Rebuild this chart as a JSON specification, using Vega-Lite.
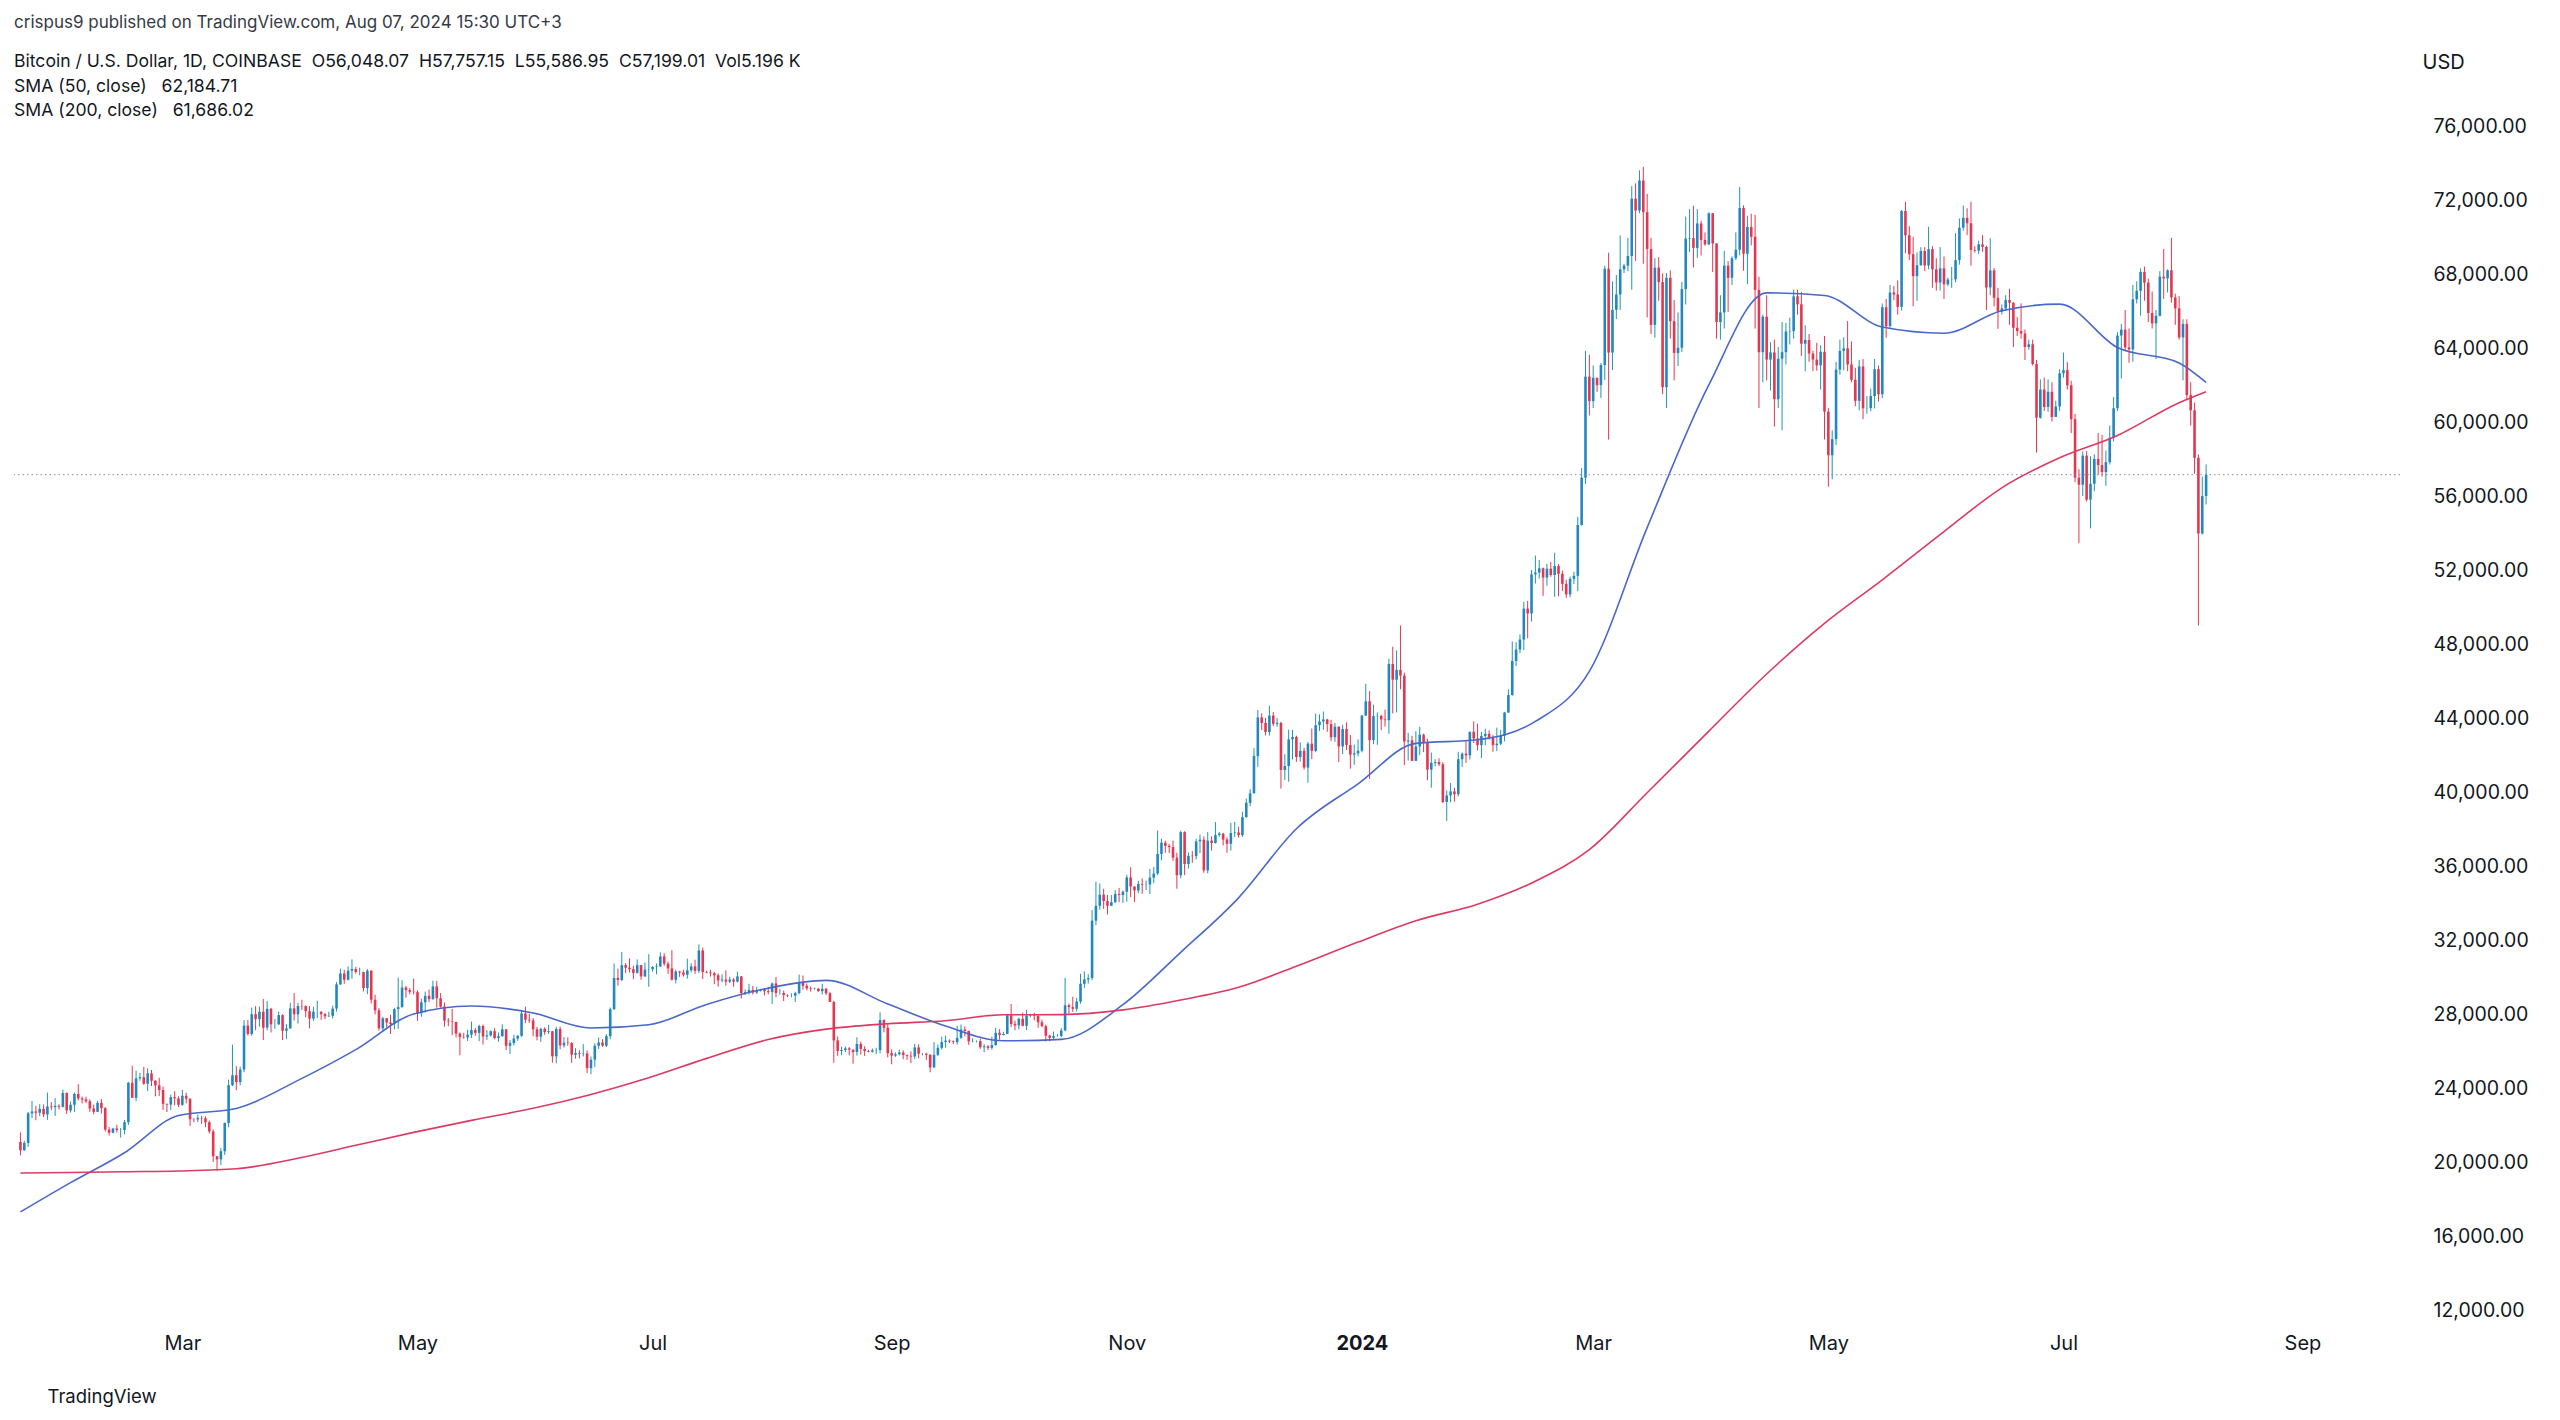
{
"$schema": "https://vega.github.io/schema/vega-lite/v6.json",
"width": 2386,
"height": 1278,
"autosize": "none",
"padding": {"left": 14, "top": 40, "right": 160, "bottom": 102},
"background": "#ffffff",
"config": {"view": {"stroke": null}, "font": "Inter"},
"title": {
 "text": "crispus9 published on TradingView.com, Aug 07, 2024 15:30 UTC+3",
 "subtitle": ["\u00a0\u00a0\u00a0Bitcoin / U.S. Dollar, 1D, COINBASE\u00a0\u00a0O56,048.07\u00a0\u00a0H57,757.15\u00a0\u00a0L55,586.95\u00a0\u00a0C57,199.01\u00a0\u00a0Vol5.196\u00a0K", "\u00a0\u00a0\u00a0SMA (50, close)\u00a0\u00a0\u00a062,184.71", "\u00a0\u00a0\u00a0SMA (200, close)\u00a0\u00a0\u00a061,686.02"],
 "anchor": "start", "frame": "group", "orient": "top", "offset": -81,
 "fontSize": 17, "fontWeight": "normal", "color": "#363a45",
 "subtitleFontSize": 17.6, "subtitleColor": "#131722", "subtitlePadding": 21, "subtitleLineHeight": 24.5
},
"datasets": {
"ohlc": [
{"d":"2023-01-18","o":21130,"h":21650,"l":20410,"c":20680},
{"d":"2023-01-19","o":20680,"h":21190,"l":20660,"c":21080},
{"d":"2023-01-20","o":21080,"h":22750,"l":20860,"c":22680},
{"d":"2023-01-21","o":22680,"h":23340,"l":22420,"c":22780},
{"d":"2023-01-22","o":22780,"h":23080,"l":22310,"c":22710},
{"d":"2023-01-23","o":22710,"h":23170,"l":22530,"c":22920},
{"d":"2023-01-24","o":22920,"h":23160,"l":22480,"c":22620},
{"d":"2023-01-25","o":22620,"h":23800,"l":22330,"c":23050},
{"d":"2023-01-26","o":23050,"h":23280,"l":22850,"c":23010},
{"d":"2023-01-27","o":23010,"h":23500,"l":22540,"c":23080},
{"d":"2023-01-28","o":23080,"h":23170,"l":22880,"c":23030},
{"d":"2023-01-29","o":23030,"h":23960,"l":22990,"c":23780},
{"d":"2023-01-30","o":23780,"h":23810,"l":22640,"c":22840},
{"d":"2023-01-31","o":22840,"h":23320,"l":22720,"c":23140},
{"d":"2023-02-01","o":23140,"h":23800,"l":22760,"c":23730},
{"d":"2023-02-02","o":23730,"h":24250,"l":23380,"c":23490},
{"d":"2023-02-03","o":23490,"h":23590,"l":23210,"c":23430},
{"d":"2023-02-04","o":23430,"h":23580,"l":23240,"c":23330},
{"d":"2023-02-05","o":23330,"h":23440,"l":22760,"c":22940},
{"d":"2023-02-06","o":22940,"h":23150,"l":22630,"c":22760},
{"d":"2023-02-07","o":22760,"h":23350,"l":22750,"c":23250},
{"d":"2023-02-08","o":23250,"h":23450,"l":22670,"c":22960},
{"d":"2023-02-09","o":22960,"h":23010,"l":21700,"c":21800},
{"d":"2023-02-10","o":21800,"h":21940,"l":21480,"c":21630},
{"d":"2023-02-11","o":21630,"h":21900,"l":21600,"c":21860},
{"d":"2023-02-12","o":21860,"h":22060,"l":21640,"c":21780},
{"d":"2023-02-13","o":21780,"h":21890,"l":21370,"c":21780},
{"d":"2023-02-14","o":21780,"h":22320,"l":21540,"c":22200},
{"d":"2023-02-15","o":22200,"h":24380,"l":22050,"c":24330},
{"d":"2023-02-16","o":24330,"h":25250,"l":23520,"c":23520},
{"d":"2023-02-17","o":23520,"h":24990,"l":23340,"c":24570},
{"d":"2023-02-18","o":24570,"h":24870,"l":24440,"c":24630},
{"d":"2023-02-19","o":24630,"h":25190,"l":24220,"c":24280},
{"d":"2023-02-20","o":24280,"h":25120,"l":23880,"c":24840},
{"d":"2023-02-21","o":24840,"h":25020,"l":24150,"c":24440},
{"d":"2023-02-22","o":24440,"h":24480,"l":23600,"c":24190},
{"d":"2023-02-23","o":24190,"h":24600,"l":23610,"c":23940},
{"d":"2023-02-24","o":23940,"h":24130,"l":22860,"c":23190},
{"d":"2023-02-25","o":23190,"h":23210,"l":22750,"c":23150},
{"d":"2023-02-26","o":23150,"h":23690,"l":22860,"c":23550},
{"d":"2023-02-27","o":23550,"h":23880,"l":23110,"c":23490},
{"d":"2023-02-28","o":23490,"h":23600,"l":23020,"c":23140},
{"d":"2023-03-01","o":23140,"h":23950,"l":23080,"c":23630},
{"d":"2023-03-02","o":23630,"h":23790,"l":23220,"c":23470},
{"d":"2023-03-03","o":23470,"h":23480,"l":22000,"c":22360},
{"d":"2023-03-04","o":22360,"h":22420,"l":22200,"c":22350},
{"d":"2023-03-05","o":22350,"h":22610,"l":22210,"c":22430},
{"d":"2023-03-06","o":22430,"h":22550,"l":22110,"c":22410},
{"d":"2023-03-07","o":22410,"h":22520,"l":21930,"c":22200},
{"d":"2023-03-08","o":22200,"h":22280,"l":21590,"c":21700},
{"d":"2023-03-09","o":21700,"h":21820,"l":20050,"c":20360},
{"d":"2023-03-10","o":20360,"h":20370,"l":19570,"c":20190},
{"d":"2023-03-11","o":20190,"h":20800,"l":19880,"c":20630},
{"d":"2023-03-12","o":20630,"h":22180,"l":20430,"c":22160},
{"d":"2023-03-13","o":22160,"h":24500,"l":21920,"c":24200},
{"d":"2023-03-14","o":24200,"h":26390,"l":24150,"c":24740},
{"d":"2023-03-15","o":24740,"h":25230,"l":23930,"c":24370},
{"d":"2023-03-16","o":24370,"h":25200,"l":24200,"c":25050},
{"d":"2023-03-17","o":25050,"h":27720,"l":24900,"c":27420},
{"d":"2023-03-18","o":27420,"h":27730,"l":26880,"c":26970},
{"d":"2023-03-19","o":26970,"h":28400,"l":26870,"c":28040},
{"d":"2023-03-20","o":28040,"h":28470,"l":27170,"c":27770},
{"d":"2023-03-21","o":27770,"h":28450,"l":27360,"c":28170},
{"d":"2023-03-22","o":28170,"h":28860,"l":26640,"c":27310},
{"d":"2023-03-23","o":27310,"h":28750,"l":27160,"c":28330},
{"d":"2023-03-24","o":28330,"h":28380,"l":27050,"c":27490},
{"d":"2023-03-25","o":27490,"h":27780,"l":27250,"c":27490},
{"d":"2023-03-26","o":27490,"h":28180,"l":27450,"c":27990},
{"d":"2023-03-27","o":27990,"h":28030,"l":26640,"c":27140},
{"d":"2023-03-28","o":27140,"h":27500,"l":26690,"c":27270},
{"d":"2023-03-29","o":27270,"h":28650,"l":27250,"c":28350},
{"d":"2023-03-30","o":28350,"h":29180,"l":27700,"c":28030},
{"d":"2023-03-31","o":28030,"h":28650,"l":27540,"c":28480},
{"d":"2023-04-01","o":28480,"h":28820,"l":28260,"c":28470},
{"d":"2023-04-02","o":28470,"h":28530,"l":27880,"c":28200},
{"d":"2023-04-03","o":28200,"h":28480,"l":27270,"c":27800},
{"d":"2023-04-04","o":27800,"h":28440,"l":27680,"c":28170},
{"d":"2023-04-05","o":28170,"h":28770,"l":27830,"c":28170},
{"d":"2023-04-06","o":28170,"h":28200,"l":27730,"c":28040},
{"d":"2023-04-07","o":28040,"h":28100,"l":27770,"c":27920},
{"d":"2023-04-08","o":27920,"h":28170,"l":27890,"c":27950},
{"d":"2023-04-09","o":27950,"h":28500,"l":27810,"c":28340},
{"d":"2023-04-10","o":28340,"h":29770,"l":28180,"c":29650},
{"d":"2023-04-11","o":29650,"h":30500,"l":29620,"c":30240},
{"d":"2023-04-12","o":30240,"h":30440,"l":29680,"c":29900},
{"d":"2023-04-13","o":29900,"h":30620,"l":29860,"c":30390},
{"d":"2023-04-14","o":30390,"h":31000,"l":29950,"c":30480},
{"d":"2023-04-15","o":30480,"h":30600,"l":30230,"c":30320},
{"d":"2023-04-16","o":30320,"h":30550,"l":30140,"c":30320},
{"d":"2023-04-17","o":30320,"h":30330,"l":29270,"c":29450},
{"d":"2023-04-18","o":29450,"h":30480,"l":29120,"c":30390},
{"d":"2023-04-19","o":30390,"h":30410,"l":28620,"c":28820},
{"d":"2023-04-20","o":28820,"h":29090,"l":28030,"c":28250},
{"d":"2023-04-21","o":28250,"h":28370,"l":27150,"c":27270},
{"d":"2023-04-22","o":27270,"h":27880,"l":27130,"c":27820},
{"d":"2023-04-23","o":27820,"h":27820,"l":27330,"c":27590},
{"d":"2023-04-24","o":27590,"h":28000,"l":26970,"c":27510},
{"d":"2023-04-25","o":27510,"h":28380,"l":27210,"c":28310},
{"d":"2023-04-26","o":28310,"h":30020,"l":27250,"c":28420},
{"d":"2023-04-27","o":28420,"h":29870,"l":28390,"c":29480},
{"d":"2023-04-28","o":29480,"h":29570,"l":28930,"c":29340},
{"d":"2023-04-29","o":29340,"h":29450,"l":29110,"c":29250},
{"d":"2023-04-30","o":29250,"h":29960,"l":29100,"c":29230},
{"d":"2023-05-01","o":29230,"h":29330,"l":27680,"c":28090},
{"d":"2023-05-02","o":28090,"h":28880,"l":27900,"c":28680},
{"d":"2023-05-03","o":28680,"h":29260,"l":28130,"c":29030},
{"d":"2023-05-04","o":29030,"h":29370,"l":28700,"c":28850},
{"d":"2023-05-05","o":28850,"h":29850,"l":28820,"c":29540},
{"d":"2023-05-06","o":29540,"h":29840,"l":28390,"c":28900},
{"d":"2023-05-07","o":28900,"h":29180,"l":28390,"c":28450},
{"d":"2023-05-08","o":28450,"h":28670,"l":27360,"c":27690},
{"d":"2023-05-09","o":27690,"h":27830,"l":27390,"c":27650},
{"d":"2023-05-10","o":27650,"h":28320,"l":26900,"c":27620},
{"d":"2023-05-11","o":27620,"h":27630,"l":26780,"c":26990},
{"d":"2023-05-12","o":26990,"h":27050,"l":25820,"c":26800},
{"d":"2023-05-13","o":26800,"h":27030,"l":26710,"c":26780},
{"d":"2023-05-14","o":26780,"h":27200,"l":26590,"c":26930},
{"d":"2023-05-15","o":26930,"h":27640,"l":26750,"c":27180},
{"d":"2023-05-16","o":27180,"h":27280,"l":26870,"c":27030},
{"d":"2023-05-17","o":27030,"h":27470,"l":26580,"c":27400},
{"d":"2023-05-18","o":27400,"h":27480,"l":26400,"c":26830},
{"d":"2023-05-19","o":26830,"h":27180,"l":26650,"c":26890},
{"d":"2023-05-20","o":26890,"h":27160,"l":26830,"c":27120},
{"d":"2023-05-21","o":27120,"h":27280,"l":26680,"c":26750},
{"d":"2023-05-22","o":26750,"h":27050,"l":26550,"c":26850},
{"d":"2023-05-23","o":26850,"h":27490,"l":26820,"c":27220},
{"d":"2023-05-24","o":27220,"h":27230,"l":26100,"c":26330},
{"d":"2023-05-25","o":26330,"h":26640,"l":25880,"c":26480},
{"d":"2023-05-26","o":26480,"h":26930,"l":26350,"c":26720},
{"d":"2023-05-27","o":26720,"h":26900,"l":26600,"c":26870},
{"d":"2023-05-28","o":26870,"h":28200,"l":26810,"c":28080},
{"d":"2023-05-29","o":28080,"h":28450,"l":27560,"c":27740},
{"d":"2023-05-30","o":27740,"h":28050,"l":27570,"c":27700},
{"d":"2023-05-31","o":27700,"h":27830,"l":26850,"c":27220},
{"d":"2023-06-01","o":27220,"h":27350,"l":26620,"c":26820},
{"d":"2023-06-02","o":26820,"h":27300,"l":26540,"c":27250},
{"d":"2023-06-03","o":27250,"h":27330,"l":26920,"c":27070},
{"d":"2023-06-04","o":27070,"h":27460,"l":26970,"c":27120},
{"d":"2023-06-05","o":27120,"h":27130,"l":25420,"c":25760},
{"d":"2023-06-06","o":25760,"h":27350,"l":25380,"c":27240},
{"d":"2023-06-07","o":27240,"h":27360,"l":26140,"c":26350},
{"d":"2023-06-08","o":26350,"h":26800,"l":26230,"c":26500},
{"d":"2023-06-09","o":26500,"h":26790,"l":26330,"c":26480},
{"d":"2023-06-10","o":26480,"h":26530,"l":25410,"c":25850},
{"d":"2023-06-11","o":25850,"h":26200,"l":25630,"c":25940},
{"d":"2023-06-12","o":25940,"h":26090,"l":25650,"c":25900},
{"d":"2023-06-13","o":25900,"h":26420,"l":25750,"c":25920},
{"d":"2023-06-14","o":25920,"h":26080,"l":24850,"c":25120},
{"d":"2023-06-15","o":25120,"h":25750,"l":24790,"c":25580},
{"d":"2023-06-16","o":25580,"h":26470,"l":25180,"c":26330},
{"d":"2023-06-17","o":26330,"h":26770,"l":26160,"c":26510},
{"d":"2023-06-18","o":26510,"h":26690,"l":26270,"c":26340},
{"d":"2023-06-19","o":26340,"h":26960,"l":26260,"c":26850},
{"d":"2023-06-20","o":26850,"h":28400,"l":26680,"c":28310},
{"d":"2023-06-21","o":28310,"h":30780,"l":28270,"c":30000},
{"d":"2023-06-22","o":30000,"h":30500,"l":29580,"c":29890},
{"d":"2023-06-23","o":29890,"h":31400,"l":29820,"c":30690},
{"d":"2023-06-24","o":30690,"h":30800,"l":30260,"c":30550},
{"d":"2023-06-25","o":30550,"h":31050,"l":30290,"c":30470},
{"d":"2023-06-26","o":30470,"h":30660,"l":29930,"c":30270},
{"d":"2023-06-27","o":30270,"h":31000,"l":30230,"c":30690},
{"d":"2023-06-28","o":30690,"h":30700,"l":29900,"c":30080},
{"d":"2023-06-29","o":30080,"h":30830,"l":30050,"c":30450},
{"d":"2023-06-30","o":30450,"h":31280,"l":29520,"c":30470},
{"d":"2023-07-01","o":30470,"h":30650,"l":30330,"c":30590},
{"d":"2023-07-02","o":30590,"h":30780,"l":30190,"c":30620},
{"d":"2023-07-03","o":30620,"h":31380,"l":30580,"c":31160},
{"d":"2023-07-04","o":31160,"h":31330,"l":30650,"c":30770},
{"d":"2023-07-05","o":30770,"h":30880,"l":30220,"c":30510},
{"d":"2023-07-06","o":30510,"h":31500,"l":29860,"c":29900},
{"d":"2023-07-07","o":29900,"h":30440,"l":29700,"c":30350},
{"d":"2023-07-08","o":30350,"h":30380,"l":30050,"c":30290},
{"d":"2023-07-09","o":30290,"h":30440,"l":30070,"c":30170},
{"d":"2023-07-10","o":30170,"h":31040,"l":29960,"c":30410},
{"d":"2023-07-11","o":30410,"h":30800,"l":30300,"c":30620},
{"d":"2023-07-12","o":30620,"h":30980,"l":30220,"c":30380},
{"d":"2023-07-13","o":30380,"h":31810,"l":30260,"c":31480},
{"d":"2023-07-14","o":31480,"h":31640,"l":29940,"c":30320},
{"d":"2023-07-15","o":30320,"h":30390,"l":30250,"c":30290},
{"d":"2023-07-16","o":30290,"h":30440,"l":30070,"c":30250},
{"d":"2023-07-17","o":30250,"h":30320,"l":29660,"c":30140},
{"d":"2023-07-18","o":30140,"h":30240,"l":29520,"c":29860},
{"d":"2023-07-19","o":29860,"h":30190,"l":29760,"c":29910},
{"d":"2023-07-20","o":29910,"h":30410,"l":29580,"c":29800},
{"d":"2023-07-21","o":29800,"h":30050,"l":29720,"c":29910},
{"d":"2023-07-22","o":29910,"h":29990,"l":29520,"c":29800},
{"d":"2023-07-23","o":29800,"h":30340,"l":29750,"c":30080},
{"d":"2023-07-24","o":30080,"h":30100,"l":28880,"c":29180},
{"d":"2023-07-25","o":29180,"h":29380,"l":29070,"c":29230},
{"d":"2023-07-26","o":29230,"h":29680,"l":29100,"c":29350},
{"d":"2023-07-27","o":29350,"h":29570,"l":29100,"c":29210},
{"d":"2023-07-28","o":29210,"h":29520,"l":29130,"c":29320},
{"d":"2023-07-29","o":29320,"h":29410,"l":29260,"c":29360},
{"d":"2023-07-30","o":29360,"h":29450,"l":29050,"c":29280},
{"d":"2023-07-31","o":29280,"h":29520,"l":29110,"c":29230},
{"d":"2023-08-01","o":29230,"h":29740,"l":28590,"c":29700},
{"d":"2023-08-02","o":29700,"h":30050,"l":28950,"c":29180},
{"d":"2023-08-03","o":29180,"h":29420,"l":29090,"c":29180},
{"d":"2023-08-04","o":29180,"h":29310,"l":28750,"c":29070},
{"d":"2023-08-05","o":29070,"h":29110,"l":28960,"c":29040},
{"d":"2023-08-06","o":29040,"h":29170,"l":28950,"c":29040},
{"d":"2023-08-07","o":29040,"h":29250,"l":28700,"c":29180},
{"d":"2023-08-08","o":29180,"h":30180,"l":29110,"c":29770},
{"d":"2023-08-09","o":29770,"h":30130,"l":29360,"c":29570},
{"d":"2023-08-10","o":29570,"h":29700,"l":29320,"c":29430},
{"d":"2023-08-11","o":29430,"h":29540,"l":29260,"c":29400},
{"d":"2023-08-12","o":29400,"h":29470,"l":29370,"c":29420},
{"d":"2023-08-13","o":29420,"h":29450,"l":29250,"c":29280},
{"d":"2023-08-14","o":29280,"h":29680,"l":29100,"c":29410},
{"d":"2023-08-15","o":29410,"h":29450,"l":29070,"c":29170},
{"d":"2023-08-16","o":29170,"h":29230,"l":28700,"c":28700},
{"d":"2023-08-17","o":28700,"h":28760,"l":25410,"c":26620},
{"d":"2023-08-18","o":26620,"h":26830,"l":25790,"c":26050},
{"d":"2023-08-19","o":26050,"h":26280,"l":25820,"c":26100},
{"d":"2023-08-20","o":26100,"h":26290,"l":25990,"c":26190},
{"d":"2023-08-21","o":26190,"h":26260,"l":25810,"c":26120},
{"d":"2023-08-22","o":26120,"h":26130,"l":25360,"c":25990},
{"d":"2023-08-23","o":25990,"h":26790,"l":25800,"c":26430},
{"d":"2023-08-24","o":26430,"h":26560,"l":25860,"c":26160},
{"d":"2023-08-25","o":26160,"h":26310,"l":25780,"c":26050},
{"d":"2023-08-26","o":26050,"h":26110,"l":25980,"c":26010},
{"d":"2023-08-27","o":26010,"h":26180,"l":25970,"c":26090},
{"d":"2023-08-28","o":26090,"h":26220,"l":25880,"c":26100},
{"d":"2023-08-29","o":26100,"h":28140,"l":25920,"c":27720},
{"d":"2023-08-30","o":27720,"h":27760,"l":27060,"c":27300},
{"d":"2023-08-31","o":27300,"h":27570,"l":25700,"c":25930},
{"d":"2023-09-01","o":25930,"h":26140,"l":25330,"c":25800},
{"d":"2023-09-02","o":25800,"h":25970,"l":25730,"c":25870},
{"d":"2023-09-03","o":25870,"h":26120,"l":25810,"c":25970},
{"d":"2023-09-04","o":25970,"h":26090,"l":25610,"c":25830},
{"d":"2023-09-05","o":25830,"h":25860,"l":25570,"c":25790},
{"d":"2023-09-06","o":25790,"h":26030,"l":25400,"c":25750},
{"d":"2023-09-07","o":25750,"h":26430,"l":25610,"c":26240},
{"d":"2023-09-08","o":26240,"h":26400,"l":25650,"c":25900},
{"d":"2023-09-09","o":25900,"h":25930,"l":25810,"c":25900},
{"d":"2023-09-10","o":25900,"h":25960,"l":25570,"c":25840},
{"d":"2023-09-11","o":25840,"h":25880,"l":24900,"c":25160},
{"d":"2023-09-12","o":25160,"h":26530,"l":25130,"c":25840},
{"d":"2023-09-13","o":25840,"h":26400,"l":25770,"c":26220},
{"d":"2023-09-14","o":26220,"h":26820,"l":26130,"c":26530},
{"d":"2023-09-15","o":26530,"h":26880,"l":26220,"c":26610},
{"d":"2023-09-16","o":26610,"h":26680,"l":26480,"c":26570},
{"d":"2023-09-17","o":26570,"h":26620,"l":26420,"c":26530},
{"d":"2023-09-18","o":26530,"h":27410,"l":26390,"c":26760},
{"d":"2023-09-19","o":26760,"h":27480,"l":26690,"c":27210},
{"d":"2023-09-20","o":27210,"h":27380,"l":26840,"c":27130},
{"d":"2023-09-21","o":27130,"h":27150,"l":26380,"c":26570},
{"d":"2023-09-22","o":26570,"h":26740,"l":26520,"c":26580},
{"d":"2023-09-23","o":26580,"h":26620,"l":26510,"c":26580},
{"d":"2023-09-24","o":26580,"h":26720,"l":26160,"c":26250},
{"d":"2023-09-25","o":26250,"h":26420,"l":25990,"c":26300},
{"d":"2023-09-26","o":26300,"h":26380,"l":26100,"c":26220},
{"d":"2023-09-27","o":26220,"h":26820,"l":26120,"c":26370},
{"d":"2023-09-28","o":26370,"h":27300,"l":26330,"c":27030},
{"d":"2023-09-29","o":27030,"h":27230,"l":26660,"c":26910},
{"d":"2023-09-30","o":26910,"h":27090,"l":26890,"c":26970},
{"d":"2023-10-01","o":26970,"h":28050,"l":26960,"c":27980},
{"d":"2023-10-02","o":27980,"h":28590,"l":27350,"c":27510},
{"d":"2023-10-03","o":27510,"h":27690,"l":27180,"c":27430},
{"d":"2023-10-04","o":27430,"h":27850,"l":27220,"c":27790},
{"d":"2023-10-05","o":27790,"h":28120,"l":27380,"c":27410},
{"d":"2023-10-06","o":27410,"h":28280,"l":27180,"c":27950},
{"d":"2023-10-07","o":27950,"h":28030,"l":27870,"c":27970},
{"d":"2023-10-08","o":27970,"h":28110,"l":27710,"c":27940},
{"d":"2023-10-09","o":27940,"h":27990,"l":27300,"c":27600},
{"d":"2023-10-10","o":27600,"h":27740,"l":27330,"c":27390},
{"d":"2023-10-11","o":27390,"h":27480,"l":26560,"c":26880},
{"d":"2023-10-12","o":26880,"h":26930,"l":26570,"c":26760},
{"d":"2023-10-13","o":26760,"h":27100,"l":26680,"c":26860},
{"d":"2023-10-14","o":26860,"h":26970,"l":26820,"c":26860},
{"d":"2023-10-15","o":26860,"h":27290,"l":26790,"c":27160},
{"d":"2023-10-16","o":27160,"h":30000,"l":27120,"c":28520},
{"d":"2023-10-17","o":28520,"h":28610,"l":28080,"c":28420},
{"d":"2023-10-18","o":28420,"h":28980,"l":28160,"c":28330},
{"d":"2023-10-19","o":28330,"h":28920,"l":28180,"c":28720},
{"d":"2023-10-20","o":28720,"h":30220,"l":28610,"c":29680},
{"d":"2023-10-21","o":29680,"h":30350,"l":29460,"c":29920},
{"d":"2023-10-22","o":29920,"h":30200,"l":29690,"c":29990},
{"d":"2023-10-23","o":29990,"h":33670,"l":29880,"c":33090},
{"d":"2023-10-24","o":33090,"h":35200,"l":32850,"c":33900},
{"d":"2023-10-25","o":33900,"h":35100,"l":33690,"c":34500},
{"d":"2023-10-26","o":34500,"h":34820,"l":33730,"c":34150},
{"d":"2023-10-27","o":34150,"h":34480,"l":33430,"c":33900},
{"d":"2023-10-28","o":33900,"h":34480,"l":33880,"c":34090},
{"d":"2023-10-29","o":34090,"h":34750,"l":34050,"c":34530},
{"d":"2023-10-30","o":34530,"h":34860,"l":34090,"c":34480},
{"d":"2023-10-31","o":34480,"h":34720,"l":34050,"c":34660},
{"d":"2023-11-01","o":34660,"h":35570,"l":34120,"c":35430},
{"d":"2023-11-02","o":35430,"h":35980,"l":34360,"c":34940},
{"d":"2023-11-03","o":34940,"h":34940,"l":34110,"c":34730},
{"d":"2023-11-04","o":34730,"h":35250,"l":34580,"c":35080},
{"d":"2023-11-05","o":35080,"h":35380,"l":34540,"c":35040},
{"d":"2023-11-06","o":35040,"h":35260,"l":34750,"c":35050},
{"d":"2023-11-07","o":35050,"h":35890,"l":34530,"c":35420},
{"d":"2023-11-08","o":35420,"h":35990,"l":35120,"c":35640},
{"d":"2023-11-09","o":35640,"h":37970,"l":35550,"c":36700},
{"d":"2023-11-10","o":36700,"h":37520,"l":36350,"c":37310},
{"d":"2023-11-11","o":37310,"h":37420,"l":36760,"c":37140},
{"d":"2023-11-12","o":37140,"h":37240,"l":36750,"c":37070},
{"d":"2023-11-13","o":37070,"h":37420,"l":36330,"c":36500},
{"d":"2023-11-14","o":36500,"h":36770,"l":34820,"c":35550},
{"d":"2023-11-15","o":35550,"h":37960,"l":35380,"c":37880},
{"d":"2023-11-16","o":37880,"h":37930,"l":35560,"c":36160},
{"d":"2023-11-17","o":36160,"h":36780,"l":35910,"c":36600},
{"d":"2023-11-18","o":36600,"h":36850,"l":36220,"c":36580},
{"d":"2023-11-19","o":36580,"h":37520,"l":36400,"c":37380},
{"d":"2023-11-20","o":37380,"h":37750,"l":36750,"c":37470},
{"d":"2023-11-21","o":37470,"h":37650,"l":35680,"c":35810},
{"d":"2023-11-22","o":35810,"h":37880,"l":35650,"c":37420},
{"d":"2023-11-23","o":37420,"h":37650,"l":36880,"c":37290},
{"d":"2023-11-24","o":37290,"h":38420,"l":37260,"c":37720},
{"d":"2023-11-25","o":37720,"h":37890,"l":37630,"c":37800},
{"d":"2023-11-26","o":37800,"h":37840,"l":37160,"c":37480},
{"d":"2023-11-27","o":37480,"h":37600,"l":36760,"c":37250},
{"d":"2023-11-28","o":37250,"h":38380,"l":36880,"c":37830},
{"d":"2023-11-29","o":37830,"h":38430,"l":37610,"c":37860},
{"d":"2023-11-30","o":37860,"h":38170,"l":37580,"c":37720},
{"d":"2023-12-01","o":37720,"h":38980,"l":37620,"c":38690},
{"d":"2023-12-02","o":38690,"h":39700,"l":38660,"c":39460},
{"d":"2023-12-03","o":39460,"h":40200,"l":39280,"c":39980},
{"d":"2023-12-04","o":39980,"h":42420,"l":39970,"c":41990},
{"d":"2023-12-05","o":41990,"h":44480,"l":41410,"c":44080},
{"d":"2023-12-06","o":44080,"h":44300,"l":43400,"c":43780},
{"d":"2023-12-07","o":43780,"h":44050,"l":43110,"c":43290},
{"d":"2023-12-08","o":43290,"h":44710,"l":43100,"c":44180},
{"d":"2023-12-09","o":44180,"h":44370,"l":43600,"c":43730},
{"d":"2023-12-10","o":43730,"h":44050,"l":43570,"c":43790},
{"d":"2023-12-11","o":43790,"h":43840,"l":40230,"c":41240},
{"d":"2023-12-12","o":41240,"h":42090,"l":40690,"c":41450},
{"d":"2023-12-13","o":41450,"h":43420,"l":40600,"c":42890},
{"d":"2023-12-14","o":42890,"h":43400,"l":41810,"c":43020},
{"d":"2023-12-15","o":43020,"h":43090,"l":41680,"c":41940},
{"d":"2023-12-16","o":41940,"h":42730,"l":41690,"c":42270},
{"d":"2023-12-17","o":42270,"h":42440,"l":41260,"c":41370},
{"d":"2023-12-18","o":41370,"h":42750,"l":40550,"c":42660},
{"d":"2023-12-19","o":42660,"h":43480,"l":41830,"c":42270},
{"d":"2023-12-20","o":42270,"h":44280,"l":42200,"c":43660},
{"d":"2023-12-21","o":43660,"h":44240,"l":43350,"c":43860},
{"d":"2023-12-22","o":43860,"h":44400,"l":43410,"c":43970},
{"d":"2023-12-23","o":43970,"h":44000,"l":43300,"c":43720},
{"d":"2023-12-24","o":43720,"h":43950,"l":42800,"c":43010},
{"d":"2023-12-25","o":43010,"h":43780,"l":42760,"c":43580},
{"d":"2023-12-26","o":43580,"h":43600,"l":41670,"c":42510},
{"d":"2023-12-27","o":42510,"h":43680,"l":42100,"c":43450},
{"d":"2023-12-28","o":43450,"h":43810,"l":42320,"c":42590},
{"d":"2023-12-29","o":42590,"h":43130,"l":41310,"c":42070},
{"d":"2023-12-30","o":42070,"h":42610,"l":41520,"c":42140},
{"d":"2023-12-31","o":42140,"h":42890,"l":41970,"c":42280},
{"d":"2024-01-01","o":42280,"h":44210,"l":42190,"c":44180},
{"d":"2024-01-02","o":44180,"h":45900,"l":44170,"c":44950},
{"d":"2024-01-03","o":44950,"h":45500,"l":40750,"c":42850},
{"d":"2024-01-04","o":42850,"h":44770,"l":42630,"c":44150},
{"d":"2024-01-05","o":44150,"h":44350,"l":42600,"c":44160},
{"d":"2024-01-06","o":44160,"h":44230,"l":43390,"c":43970},
{"d":"2024-01-07","o":43970,"h":44500,"l":43590,"c":43930},
{"d":"2024-01-08","o":43930,"h":47250,"l":43200,"c":46970},
{"d":"2024-01-09","o":46970,"h":47900,"l":44300,"c":46120},
{"d":"2024-01-10","o":46120,"h":47700,"l":44350,"c":46650},
{"d":"2024-01-11","o":46650,"h":49050,"l":45600,"c":46340},
{"d":"2024-01-12","o":46340,"h":46500,"l":41500,"c":42780},
{"d":"2024-01-13","o":42780,"h":43250,"l":41750,"c":42840},
{"d":"2024-01-14","o":42840,"h":43090,"l":41720,"c":41730},
{"d":"2024-01-15","o":41730,"h":43330,"l":41720,"c":42510},
{"d":"2024-01-16","o":42510,"h":43570,"l":42050,"c":43150},
{"d":"2024-01-17","o":43150,"h":43200,"l":42200,"c":42740},
{"d":"2024-01-18","o":42740,"h":42930,"l":40680,"c":41260},
{"d":"2024-01-19","o":41260,"h":42180,"l":40280,"c":41620},
{"d":"2024-01-20","o":41620,"h":41820,"l":41430,"c":41670},
{"d":"2024-01-21","o":41670,"h":41870,"l":41450,"c":41550},
{"d":"2024-01-22","o":41550,"h":41660,"l":39450,"c":39510},
{"d":"2024-01-23","o":39510,"h":40130,"l":38480,"c":39860},
{"d":"2024-01-24","o":39860,"h":40530,"l":39490,"c":40080},
{"d":"2024-01-25","o":40080,"h":40280,"l":39530,"c":39930},
{"d":"2024-01-26","o":39930,"h":42220,"l":39810,"c":41820},
{"d":"2024-01-27","o":41820,"h":42190,"l":41400,"c":42120},
{"d":"2024-01-28","o":42120,"h":42820,"l":41620,"c":42030},
{"d":"2024-01-29","o":42030,"h":43310,"l":41800,"c":43300},
{"d":"2024-01-30","o":43300,"h":43870,"l":42690,"c":42940},
{"d":"2024-01-31","o":42940,"h":43740,"l":42300,"c":42580},
{"d":"2024-02-01","o":42580,"h":43290,"l":41880,"c":43080},
{"d":"2024-02-02","o":43080,"h":43470,"l":42570,"c":43190},
{"d":"2024-02-03","o":43190,"h":43380,"l":42880,"c":42990},
{"d":"2024-02-04","o":42990,"h":43120,"l":42220,"c":42580},
{"d":"2024-02-05","o":42580,"h":43530,"l":42260,"c":42660},
{"d":"2024-02-06","o":42660,"h":43400,"l":42580,"c":43090},
{"d":"2024-02-07","o":43090,"h":44380,"l":42780,"c":44340},
{"d":"2024-02-08","o":44340,"h":45600,"l":44340,"c":45290},
{"d":"2024-02-09","o":45290,"h":48190,"l":45250,"c":47130},
{"d":"2024-02-10","o":47130,"h":48150,"l":46850,"c":47750},
{"d":"2024-02-11","o":47750,"h":48570,"l":47560,"c":48290},
{"d":"2024-02-12","o":48290,"h":50330,"l":47720,"c":49960},
{"d":"2024-02-13","o":49960,"h":50380,"l":48350,"c":49700},
{"d":"2024-02-14","o":49700,"h":52050,"l":49260,"c":51810},
{"d":"2024-02-15","o":51810,"h":52830,"l":51320,"c":51910},
{"d":"2024-02-16","o":51910,"h":52590,"l":51580,"c":52140},
{"d":"2024-02-17","o":52140,"h":52180,"l":50650,"c":51640},
{"d":"2024-02-18","o":51640,"h":52380,"l":51200,"c":52120},
{"d":"2024-02-19","o":52120,"h":52490,"l":51680,"c":51780},
{"d":"2024-02-20","o":51780,"h":52980,"l":50600,"c":52260},
{"d":"2024-02-21","o":52260,"h":52370,"l":50630,"c":51840},
{"d":"2024-02-22","o":51840,"h":52020,"l":50920,"c":51300},
{"d":"2024-02-23","o":51300,"h":51530,"l":50540,"c":50730},
{"d":"2024-02-24","o":50730,"h":51690,"l":50580,"c":51570},
{"d":"2024-02-25","o":51570,"h":51960,"l":51290,"c":51730},
{"d":"2024-02-26","o":51730,"h":54920,"l":50900,"c":54480},
{"d":"2024-02-27","o":54480,"h":57560,"l":54450,"c":57040},
{"d":"2024-02-28","o":57040,"h":63900,"l":56700,"c":62500},
{"d":"2024-02-29","o":62500,"h":63680,"l":60400,"c":61180},
{"d":"2024-03-01","o":61180,"h":63100,"l":60800,"c":62440},
{"d":"2024-03-02","o":62440,"h":62440,"l":61680,"c":62040},
{"d":"2024-03-03","o":62040,"h":63230,"l":61350,"c":63130},
{"d":"2024-03-04","o":63130,"h":68500,"l":62320,"c":68330},
{"d":"2024-03-05","o":68330,"h":69200,"l":59100,"c":63800},
{"d":"2024-03-06","o":63800,"h":67650,"l":62860,"c":66110},
{"d":"2024-03-07","o":66110,"h":67990,"l":65610,"c":66940},
{"d":"2024-03-08","o":66940,"h":70130,"l":66100,"c":68300},
{"d":"2024-03-09","o":68300,"h":68600,"l":68100,"c":68500},
{"d":"2024-03-10","o":68500,"h":70000,"l":68200,"c":69020},
{"d":"2024-03-11","o":69020,"h":72800,"l":67200,"c":72120},
{"d":"2024-03-12","o":72120,"h":72950,"l":68750,"c":71480},
{"d":"2024-03-13","o":71480,"h":73650,"l":71330,"c":73100},
{"d":"2024-03-14","o":73100,"h":73840,"l":68600,"c":71390},
{"d":"2024-03-15","o":71390,"h":72380,"l":65700,"c":69400},
{"d":"2024-03-16","o":69400,"h":70000,"l":64800,"c":65300},
{"d":"2024-03-17","o":65300,"h":68900,"l":64600,"c":68390},
{"d":"2024-03-18","o":68390,"h":68960,"l":66600,"c":67610},
{"d":"2024-03-19","o":67610,"h":68080,"l":61550,"c":61930},
{"d":"2024-03-20","o":61930,"h":68100,"l":60800,"c":67840},
{"d":"2024-03-21","o":67840,"h":68250,"l":64560,"c":65500},
{"d":"2024-03-22","o":65500,"h":66640,"l":62300,"c":63780},
{"d":"2024-03-23","o":63780,"h":65970,"l":63070,"c":64060},
{"d":"2024-03-24","o":64060,"h":67620,"l":63830,"c":67230},
{"d":"2024-03-25","o":67230,"h":71150,"l":66400,"c":69960},
{"d":"2024-03-26","o":69960,"h":71550,"l":69240,"c":69990},
{"d":"2024-03-27","o":69990,"h":71740,"l":68400,"c":69460},
{"d":"2024-03-28","o":69460,"h":71550,"l":68920,"c":70780},
{"d":"2024-03-29","o":70780,"h":70930,"l":69050,"c":69890},
{"d":"2024-03-30","o":69890,"h":70300,"l":69570,"c":69650},
{"d":"2024-03-31","o":69650,"h":71380,"l":69600,"c":71330},
{"d":"2024-04-01","o":71330,"h":71340,"l":68150,"c":69700},
{"d":"2024-04-02","o":69700,"h":69700,"l":64550,"c":65450},
{"d":"2024-04-03","o":65450,"h":66900,"l":64500,"c":65970},
{"d":"2024-04-04","o":65970,"h":69300,"l":65100,"c":68500},
{"d":"2024-04-05","o":68500,"h":68750,"l":66000,"c":67840},
{"d":"2024-04-06","o":67840,"h":69000,"l":67450,"c":68900},
{"d":"2024-04-07","o":68900,"h":70300,"l":68800,"c":69360},
{"d":"2024-04-08","o":69360,"h":72750,"l":69060,"c":71620},
{"d":"2024-04-09","o":71620,"h":71760,"l":68220,"c":69140},
{"d":"2024-04-10","o":69140,"h":71200,"l":67500,"c":70590},
{"d":"2024-04-11","o":70590,"h":71300,"l":69600,"c":70060},
{"d":"2024-04-12","o":70060,"h":71250,"l":65100,"c":67190},
{"d":"2024-04-13","o":67190,"h":67900,"l":60800,"c":63820},
{"d":"2024-04-14","o":63820,"h":65850,"l":62200,"c":65740},
{"d":"2024-04-15","o":65740,"h":66900,"l":62300,"c":63420},
{"d":"2024-04-16","o":63420,"h":64360,"l":61750,"c":63810},
{"d":"2024-04-17","o":63810,"h":64500,"l":59800,"c":61280},
{"d":"2024-04-18","o":61280,"h":64100,"l":60800,"c":63470},
{"d":"2024-04-19","o":63470,"h":65450,"l":59600,"c":63820},
{"d":"2024-04-20","o":63820,"h":65400,"l":63150,"c":64940},
{"d":"2024-04-21","o":64940,"h":65690,"l":64240,"c":64960},
{"d":"2024-04-22","o":64960,"h":67200,"l":64550,"c":66840},
{"d":"2024-04-23","o":66840,"h":67200,"l":65850,"c":66410},
{"d":"2024-04-24","o":66410,"h":67080,"l":63620,"c":64280},
{"d":"2024-04-25","o":64280,"h":65280,"l":62800,"c":64480},
{"d":"2024-04-26","o":64480,"h":64800,"l":63300,"c":63750},
{"d":"2024-04-27","o":63750,"h":63900,"l":62800,"c":63420},
{"d":"2024-04-28","o":63420,"h":64330,"l":62820,"c":63110},
{"d":"2024-04-29","o":63110,"h":64200,"l":61800,"c":63840},
{"d":"2024-04-30","o":63840,"h":64700,"l":59100,"c":60610},
{"d":"2024-05-01","o":60610,"h":60800,"l":56550,"c":58250},
{"d":"2024-05-02","o":58250,"h":59600,"l":56950,"c":59120},
{"d":"2024-05-03","o":59120,"h":63300,"l":58800,"c":62880},
{"d":"2024-05-04","o":62880,"h":64500,"l":62600,"c":63890},
{"d":"2024-05-05","o":63890,"h":64630,"l":62850,"c":64030},
{"d":"2024-05-06","o":64030,"h":65500,"l":62800,"c":63160},
{"d":"2024-05-07","o":63160,"h":64400,"l":62200,"c":62330},
{"d":"2024-05-08","o":62330,"h":62980,"l":60900,"c":61190},
{"d":"2024-05-09","o":61190,"h":63400,"l":60680,"c":63050},
{"d":"2024-05-10","o":63050,"h":63450,"l":60200,"c":60790},
{"d":"2024-05-11","o":60790,"h":61450,"l":60500,"c":60800},
{"d":"2024-05-12","o":60800,"h":61850,"l":60630,"c":61450},
{"d":"2024-05-13","o":61450,"h":63450,"l":60780,"c":62900},
{"d":"2024-05-14","o":62900,"h":63100,"l":61150,"c":61550},
{"d":"2024-05-15","o":61550,"h":66450,"l":61330,"c":66250},
{"d":"2024-05-16","o":66250,"h":66700,"l":64600,"c":65230},
{"d":"2024-05-17","o":65230,"h":67450,"l":65150,"c":67050},
{"d":"2024-05-18","o":67050,"h":67400,"l":66630,"c":66940},
{"d":"2024-05-19","o":66940,"h":67700,"l":65850,"c":66270},
{"d":"2024-05-20","o":66270,"h":71500,"l":66080,"c":71450},
{"d":"2024-05-21","o":71450,"h":71950,"l":69170,"c":70140},
{"d":"2024-05-22","o":70140,"h":70630,"l":68800,"c":69120},
{"d":"2024-05-23","o":69120,"h":70050,"l":66300,"c":67930},
{"d":"2024-05-24","o":67930,"h":69220,"l":66600,"c":68520},
{"d":"2024-05-25","o":68520,"h":69500,"l":68500,"c":69290},
{"d":"2024-05-26","o":69290,"h":69500,"l":68200,"c":68510},
{"d":"2024-05-27","o":68510,"h":70600,"l":68300,"c":69390},
{"d":"2024-05-28","o":69390,"h":69550,"l":67300,"c":68300},
{"d":"2024-05-29","o":68300,"h":68900,"l":67150,"c":67590},
{"d":"2024-05-30","o":67590,"h":69500,"l":67150,"c":68350},
{"d":"2024-05-31","o":68350,"h":69000,"l":66700,"c":67490},
{"d":"2024-06-01","o":67490,"h":67850,"l":67380,"c":67750},
{"d":"2024-06-02","o":67750,"h":68430,"l":67300,"c":67760},
{"d":"2024-06-03","o":67760,"h":70250,"l":67600,"c":68800},
{"d":"2024-06-04","o":68800,"h":71050,"l":68550,"c":70550},
{"d":"2024-06-05","o":70550,"h":71750,"l":70400,"c":71080},
{"d":"2024-06-06","o":71080,"h":71600,"l":70150,"c":70790},
{"d":"2024-06-07","o":70790,"h":71950,"l":68500,"c":69350},
{"d":"2024-06-08","o":69350,"h":69550,"l":69200,"c":69310},
{"d":"2024-06-09","o":69310,"h":69850,"l":69130,"c":69650},
{"d":"2024-06-10","o":69650,"h":70150,"l":69250,"c":69510},
{"d":"2024-06-11","o":69510,"h":69580,"l":66100,"c":67320},
{"d":"2024-06-12","o":67320,"h":69980,"l":66900,"c":68240},
{"d":"2024-06-13","o":68240,"h":68370,"l":66300,"c":66760},
{"d":"2024-06-14","o":66760,"h":67300,"l":65080,"c":66010},
{"d":"2024-06-15","o":66010,"h":66400,"l":65850,"c":66190},
{"d":"2024-06-16","o":66190,"h":66900,"l":66050,"c":66640},
{"d":"2024-06-17","o":66640,"h":67250,"l":65300,"c":66490},
{"d":"2024-06-18","o":66490,"h":66530,"l":64100,"c":65140},
{"d":"2024-06-19","o":65140,"h":65720,"l":64700,"c":64960},
{"d":"2024-06-20","o":64960,"h":66460,"l":64550,"c":64830},
{"d":"2024-06-21","o":64830,"h":65050,"l":63400,"c":64100},
{"d":"2024-06-22","o":64100,"h":64500,"l":63950,"c":64250},
{"d":"2024-06-23","o":64250,"h":64500,"l":63100,"c":63180},
{"d":"2024-06-24","o":63180,"h":63400,"l":58400,"c":60280},
{"d":"2024-06-25","o":60280,"h":62350,"l":60230,"c":61800},
{"d":"2024-06-26","o":61800,"h":62450,"l":60650,"c":60860},
{"d":"2024-06-27","o":60860,"h":62350,"l":60600,"c":61680},
{"d":"2024-06-28","o":61680,"h":62200,"l":60070,"c":60320},
{"d":"2024-06-29","o":60320,"h":61200,"l":60320,"c":60890},
{"d":"2024-06-30","o":60890,"h":62900,"l":60650,"c":62680},
{"d":"2024-07-01","o":62680,"h":63800,"l":62450,"c":62850},
{"d":"2024-07-02","o":62850,"h":63280,"l":61800,"c":62030},
{"d":"2024-07-03","o":62030,"h":62270,"l":59450,"c":60200},
{"d":"2024-07-04","o":60200,"h":60480,"l":56800,"c":57040},
{"d":"2024-07-05","o":57040,"h":57500,"l":53500,"c":56660},
{"d":"2024-07-06","o":56660,"h":58450,"l":56050,"c":58230},
{"d":"2024-07-07","o":58230,"h":58470,"l":55750,"c":55850},
{"d":"2024-07-08","o":55850,"h":58200,"l":54300,"c":56710},
{"d":"2024-07-09","o":56710,"h":58300,"l":56300,"c":58050},
{"d":"2024-07-10","o":58050,"h":59450,"l":57200,"c":57720},
{"d":"2024-07-11","o":57720,"h":59350,"l":57100,"c":57340},
{"d":"2024-07-12","o":57340,"h":58500,"l":56600,"c":57880},
{"d":"2024-07-13","o":57880,"h":59850,"l":57750,"c":59200},
{"d":"2024-07-14","o":59200,"h":61400,"l":59000,"c":60790},
{"d":"2024-07-15","o":60790,"h":64900,"l":60650,"c":64720},
{"d":"2024-07-16","o":64720,"h":65350,"l":62400,"c":65040},
{"d":"2024-07-17","o":65040,"h":66100,"l":63900,"c":64080},
{"d":"2024-07-18","o":64080,"h":65100,"l":63250,"c":63970},
{"d":"2024-07-19","o":63970,"h":67450,"l":63300,"c":66680},
{"d":"2024-07-20","o":66680,"h":67650,"l":66450,"c":67140},
{"d":"2024-07-21","o":67140,"h":68350,"l":65800,"c":68160},
{"d":"2024-07-22","o":68160,"h":68450,"l":66600,"c":67580},
{"d":"2024-07-23","o":67580,"h":67800,"l":65450,"c":65940},
{"d":"2024-07-24","o":65940,"h":67100,"l":65100,"c":65380},
{"d":"2024-07-25","o":65380,"h":66100,"l":63450,"c":65790},
{"d":"2024-07-26","o":65790,"h":68200,"l":65750,"c":67900},
{"d":"2024-07-27","o":67900,"h":69400,"l":66700,"c":67810},
{"d":"2024-07-28","o":67810,"h":68300,"l":67050,"c":68250},
{"d":"2024-07-29","o":68250,"h":70000,"l":66500,"c":66780},
{"d":"2024-07-30","o":66780,"h":66980,"l":65300,"c":66190},
{"d":"2024-07-31","o":66190,"h":66850,"l":64500,"c":64620},
{"d":"2024-08-01","o":64620,"h":65600,"l":62300,"c":65350},
{"d":"2024-08-02","o":65350,"h":65600,"l":61250,"c":61500},
{"d":"2024-08-03","o":61500,"h":62200,"l":59850,"c":60680},
{"d":"2024-08-04","o":60680,"h":61100,"l":57250,"c":58110},
{"d":"2024-08-05","o":58110,"h":58300,"l":49050,"c":54020},
{"d":"2024-08-06","o":54020,"h":57100,"l":53970,"c":56040},
{"d":"2024-08-07","o":56048.07,"h":57757.15,"l":55586.95,"c":57199.01}
],
"sma": [
{"d":"2023-01-18","s50":17350,"s200":19450},
{"d":"2023-01-31","s50":18935,"s200":19480},
{"d":"2023-02-14","s50":20550,"s200":19520},
{"d":"2023-02-28","s50":22560,"s200":19560},
{"d":"2023-03-15","s50":22940,"s200":19680},
{"d":"2023-03-31","s50":24460,"s200":20250},
{"d":"2023-04-15","s50":26120,"s200":20950},
{"d":"2023-04-30","s50":28045,"s200":21650},
{"d":"2023-05-15","s50":28480,"s200":22300},
{"d":"2023-05-31","s50":28100,"s200":22950},
{"d":"2023-06-15","s50":27290,"s200":23700},
{"d":"2023-06-30","s50":27470,"s200":24600},
{"d":"2023-07-15","s50":28565,"s200":25650},
{"d":"2023-07-31","s50":29444,"s200":26670},
{"d":"2023-08-15","s50":29866,"s200":27229},
{"d":"2023-08-31","s50":28588,"s200":27518},
{"d":"2023-09-15","s50":27397,"s200":27684},
{"d":"2023-09-30","s50":26601,"s200":28004},
{"d":"2023-10-15","s50":26677,"s200":28016},
{"d":"2023-10-31","s50":28551,"s200":28269},
{"d":"2023-11-15","s50":31383,"s200":28803},
{"d":"2023-11-30","s50":34327,"s200":29489},
{"d":"2023-12-15","s50":38060,"s200":30629},
{"d":"2023-12-31","s50":40486,"s200":31935},
{"d":"2024-01-15","s50":42674,"s200":33091},
{"d":"2024-01-31","s50":42871,"s200":33980},
{"d":"2024-02-15","s50":43863,"s200":35225},
{"d":"2024-02-29","s50":46569,"s200":36934},
{"d":"2024-03-15","s50":54339,"s200":40009},
{"d":"2024-03-31","s50":62056,"s200":43337},
{"d":"2024-04-15","s50":67026,"s200":46427},
{"d":"2024-04-30","s50":66888,"s200":49166},
{"d":"2024-05-15","s50":65181,"s200":51518},
{"d":"2024-05-31","s50":64848,"s200":54127},
{"d":"2024-06-15","s50":66065,"s200":56491},
{"d":"2024-06-30","s50":66418,"s200":58111},
{"d":"2024-07-15","s50":64071,"s200":59318},
{"d":"2024-07-31","s50":63238,"s200":61093},
{"d":"2024-08-07","s50":62184.71,"s200":61686.02}
],
"last": [{"c": 57199.01}]
},
"layer": [
{
 "data": {"name": "ohlc"},
 "mark": {"type": "rule", "strokeWidth": 1},
 "encoding": {
  "x": {"field": "d", "type": "temporal",
   "scale": {"type": "utc", "domain": [{"year": 2023, "month": 1, "date": 17, "hours": 15, "utc": true}, {"year": 2024, "month": 9, "date": 25, "utc": true}]},
   "axis": {"values": [{"year":2023,"month":3,"date":1,"utc":true},{"year":2023,"month":5,"date":1,"utc":true},{"year":2023,"month":7,"date":1,"utc":true},{"year":2023,"month":9,"date":1,"utc":true},{"year":2023,"month":11,"date":1,"utc":true},{"year":2024,"month":1,"date":1,"utc":true},{"year":2024,"month":3,"date":1,"utc":true},{"year":2024,"month":5,"date":1,"utc":true},{"year":2024,"month":7,"date":1,"utc":true},{"year":2024,"month":9,"date":1,"utc":true}],
    "labelExpr": "utcmonth(datum.value) == 0 ? utcFormat(datum.value, '%Y') : utcFormat(datum.value, '%b')",
    "labelFontWeight": {"condition": {"test": "utcmonth(datum.value) == 0", "value": "bold"}, "value": "normal"},
    "labelFontSize": 20, "labelColor": "#131722", "labelPadding": 15, "labelFlush": false,
    "ticks": false, "domain": false, "grid": false,
    "title": "TradingView", "titleX": 33, "titleY": 78, "titleAlign": "left", "titleBaseline": "middle", "titleAnchor": null,
    "titleFontSize": 18.5, "titleFontWeight": "normal", "titleColor": "#131722"}},
  "y": {"field": "l", "type": "quantitative",
   "scale": {"domain": [11616, 80696], "nice": false, "zero": false},
   "axis": {"orient": "right", "values": [12000,16000,20000,24000,28000,32000,36000,40000,44000,48000,52000,56000,60000,64000,68000,72000,76000],
    "format": ",.2f", "labelFontSize": 19.5, "labelColor": "#131722", "labelPadding": 33,
    "ticks": false, "domain": false, "grid": false,
    "title": "USD", "titleAngle": 0, "titleX": 22, "titleY": 22, "titleAlign": "left", "titleBaseline": "middle",
    "titleFontSize": 20, "titleFontWeight": "normal", "titleColor": "#131722"}},
  "y2": {"field": "h"},
  "color": {"condition": {"test": "datum.c >= datum.o", "value": "#2196a8"}, "value": "#e33650"}
 }
},
{
 "data": {"name": "ohlc"},
 "mark": {"type": "bar", "size": 2.6},
 "encoding": {
  "x": {"field": "d", "type": "temporal"},
  "y": {"field": "o", "type": "quantitative"},
  "y2": {"field": "c"},
  "color": {"condition": {"test": "datum.c >= datum.o", "value": "#2386c0"}, "value": "#e33650"}
 }
},
{
 "data": {"name": "sma"},
 "mark": {"type": "line", "interpolate": "monotone", "strokeWidth": 1.6, "color": "#4a68c8"},
 "encoding": {
  "x": {"field": "d", "type": "temporal"},
  "y": {"field": "s50", "type": "quantitative"}
 }
},
{
 "data": {"name": "sma"},
 "mark": {"type": "line", "interpolate": "monotone", "strokeWidth": 1.6, "color": "#dc3a62"},
 "encoding": {
  "x": {"field": "d", "type": "temporal"},
  "y": {"field": "s200", "type": "quantitative"}
 }
},
{
 "data": {"name": "last"},
 "mark": {"type": "rule", "strokeWidth": 1, "strokeDash": [1.5, 3], "color": "#8a8d96"},
 "encoding": {
  "y": {"field": "c", "type": "quantitative"}
 }
}
]
}
